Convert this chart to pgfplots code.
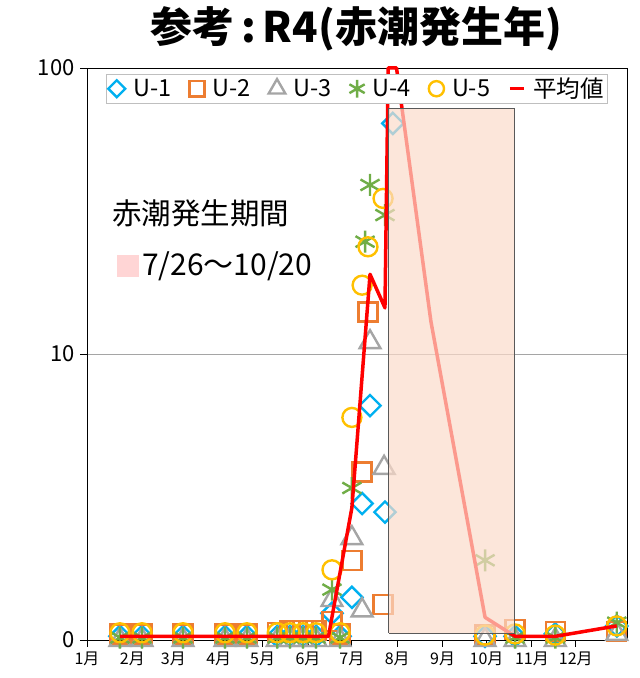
\documentclass[border=0pt]{standalone}
\usepackage{pgfplots}
\pgfplotsset{compat=1.18}
\usepackage{fontspec}
\setmainfont{Noto Sans CJK JP}
\definecolor{cU1}{RGB}{0,176,240}
\definecolor{cU2}{RGB}{237,125,49}
\definecolor{cU3}{RGB}{165,165,165}
\definecolor{cU4}{RGB}{112,173,71}
\definecolor{cU5}{RGB}{255,192,0}
\definecolor{rectfill}{RGB}{251,219,202}
\definecolor{rectdraw}{RGB}{89,89,89}
\definecolor{pinkbox}{RGB}{255,213,213}
\definecolor{legdraw}{RGB}{191,191,191}
\begin{document}
\begin{tikzpicture}[x=1bp,y=1bp]
\useasboundingbox (0,0) rectangle (640,678);
\begin{axis}[
  clip=false, clip marker paths=true,
  at={(87bp,38bp)}, anchor=south west,
  width=540bp, height=572bp, scale only axis,
  xmin=0, xmax=369,
  ymode=log, ymin=1, ymax=100,
  ytick={1,10,100}, yticklabels={0,10,100},
  yminorticks=false,
  xtick={0,31,59,90,120,151,181,212,243,273,304,334},
  xticklabels={1月,2月,3月,4月,5月,6月,7月,8月,9月,10月,11月,12月},
  tick align=outside, tick pos=left,
  major tick length=7bp,
  ymajorgrids, grid style={cU3, line width=0.8bp},
  axis line style={black, line width=0.9bp},
  every tick/.style={black, line width=0.8bp},
  yticklabel style={font=\fontsize{22bp}{26bp}\selectfont, xshift=-2bp},
  xticklabel style={font=\fontsize{16bp}{19bp}\selectfont, yshift=-1bp},
  legend style={at={(0.5,0.99)}, anchor=north, legend columns=6,
    draw=legdraw, line width=0.8bp, fill=white,
    font=\fontsize{23.5bp}{27bp}\selectfont, inner sep=2bp,
    /tikz/every odd column/.append style={column sep=6bp},
    /tikz/every even column/.append style={column sep=16bp}},
  legend image post style={scale=0.8},
  legend cell align=left,
]
% U-1
\addplot[only marks, mark=square, mark size=7.5bp, cU1, line width=2.4bp,
  every mark/.append style={rotate=45}] coordinates {
(22.5,1.03)(37.6,1.03)(65.6,1.03)(94.3,1.03)(109.3,1.03)(130,1.03)(138.7,1.03)(147.6,1.03)(156.5,1.03)(172.9,1.03)
(167.4,1.24)(181,1.41)(188,3.0)(193.4,6.6)(203.6,2.8)(209,64)
(272,1.03)(292.5,1.03)(320,1.05)(362,1.12)};
\addlegendentry{U-1}
% U-2
\addplot[only marks, mark=square, mark size=9.5bp, cU2, line width=2.4bp] coordinates {
(22.5,1.05)(37.6,1.05)(65.6,1.05)(94.3,1.05)(109.3,1.05)(130,1.06)(138.7,1.08)(147.6,1.08)(156.5,1.08)(172.9,1.05)
(167.4,1.16)(181,1.9)(188,3.87)(192,14.0)(202.3,1.33)
(272,1.04)(292.5,1.09)(320,1.07)(362,1.07)};
\addlegendentry{U-2}
% U-3
\addplot[only marks, mark=triangle, mark size=12bp, cU3, line width=2.4bp] coordinates {
(22.5,1.0)(37.6,1.0)(65.6,1.0)(94.3,1.0)(109.3,1.0)(130,1.0)(138.7,1.0)(147.6,1.0)(156.5,1.0)(172.9,1.0)
(167.4,1.38)(181,2.27)(188,1.27)(193.4,11.0)(203,4.0)
(272,1.0)(292.5,1.0)(320,1.0)(362,1.05)};
\addlegendentry{U-3}
% U-4
\addplot[only marks, mark=asterisk, mark size=11bp, cU4, line width=2.4bp] coordinates {
(22.5,1.02)(37.6,1.02)(65.6,1.02)(94.3,1.02)(109.3,1.02)(130,1.02)(138.7,1.02)(147.6,1.02)(156.5,1.02)(172.9,1.02)
(167.4,1.5)(181,3.4)(190,24.7)(193.4,39)(203.6,30.6)
(272,1.9)(292.5,1.02)(320,1.02)(362,1.15)};
\addlegendentry{U-4}
% U-5
\addplot[only marks, mark=o, mark size=9.5bp, cU5, line width=2.4bp] coordinates {
(22.5,1.06)(37.6,1.06)(65.6,1.06)(94.3,1.06)(109.3,1.06)(130,1.06)(138.7,1.06)(147.6,1.06)(156.5,1.06)(172.9,1.06)
(167.4,1.76)(181,6.0)(188,17.4)(192,23.7)(202.3,35)
(272,1.04)(292.5,1.05)(320,1.04)(362,1.12)};
\addlegendentry{U-5}
% average (clipped at the top of the axis, 100)
\addplot[no marks, red, line width=3.5bp, line join=round] coordinates {
(22.5,1.03)(37.6,1.03)(65.6,1.03)(94.3,1.03)(109.3,1.03)(130,1.03)(138.7,1.03)(147.6,1.03)(156.5,1.03)(165,1.03)
(181,2.9)(193.4,19)(203.6,14.5)(205.8,100)(211.5,100)(235,13)(272,1.2)(292.5,1.03)(320,1.03)(362,1.12)};
\addlegendentry{平均値}
% red-tide period box
\addplot[forget plot, draw=rectdraw, line width=1bp, fill=rectfill, fill opacity=0.7] coordinates {
(206.2,1.057)(292.3,1.057)(292.3,72.4)(206.2,72.4)(206.2,1.057)};
\end{axis}
\node[font=\fontsize{42bp}{46bp}\selectfont\bfseries] at (356,649) {参考\,:\,R4(赤潮発生年)};
\node[anchor=west, inner sep=0pt, font=\fontsize{29.5bp}{33bp}\selectfont] at (112,465) {赤潮発生期間};
\fill[pinkbox] (117,401) rectangle (139,423);
\node[anchor=west, inner sep=0pt, font=\fontsize{30bp}{34bp}\selectfont] at (142,412) {7/26～10/20};
\end{tikzpicture}
\end{document}
